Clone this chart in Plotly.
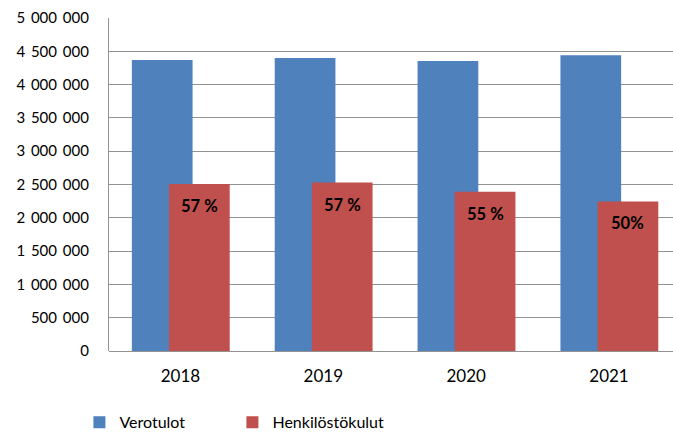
import plotly.graph_objects as go

years = ["2018", "2019", "2020", "2021"]
verotulot = [4370000, 4400000, 4355000, 4440000]
henkilostokulut = [2507000, 2530000, 2390000, 2246000]
pct_labels = ["57 %", "57 %", "55 %", "50%"]
ytick_vals = [0, 500000, 1000000, 1500000, 2000000, 2500000, 3000000, 3500000, 4000000, 4500000, 5000000]
ytick_text = ["0", "500 000", "1 000 000", "1 500 000", "2 000 000", "2 500 000",
              "3 000 000", "3 500 000", "4 000 000", "4 500 000", "5 000 000"]

BLUE = "#4F81BD"
RED = "#C0504D"
FONT = "Lato"
W = 0.425
OFF_BLUE = -0.34
OFF_RED = -0.08

xs = list(range(len(years)))
ytick_disp = [t.replace(" ", "\u00a0\u2009") for t in ytick_text]

fig = go.Figure()
fig.add_trace(go.Bar(x=xs, y=verotulot, name="Verotulot", marker_color=BLUE,
                     marker_line_width=0, width=W, offset=OFF_BLUE))
fig.add_trace(go.Bar(x=xs, y=henkilostokulut, name="Henkilöstökulut", marker_color=RED,
                     marker_line_width=0, width=W, offset=OFF_RED))

for i, (v, t) in enumerate(zip(henkilostokulut, pct_labels)):
    fig.add_annotation(x=i + OFF_RED + W / 2, y=v, text=t, showarrow=False,
                       yanchor="middle", yshift=-22,
                       font=dict(family=FONT, size=16.5, color="black", weight="bold"))

fig.update_layout(
    width=673, height=434,
    barmode="overlay",
    plot_bgcolor="white", paper_bgcolor="white",
    margin=dict(l=108.5, r=0, t=18, b=83.3, autoexpand=False),
    font=dict(family=FONT, color="black"),
    showlegend=True,
    legend=dict(orientation="h", xref="container", yref="container",
                x=0.118, y=0.027, xanchor="left", yanchor="middle",
                font=dict(family=FONT, size=16, color="black"),
                entrywidth=108, traceorder="normal"),
    xaxis=dict(range=[-0.5, 3.448], tickvals=xs, ticktext=years,
               showgrid=False, showline=False, zeroline=False,
               ticks="", ticklabelstandoff=13, automargin=False,
               tickfont=dict(family=FONT, size=17, color="black")),
    yaxis=dict(range=[0, 5000000], tickvals=ytick_vals, ticktext=ytick_disp,
               showgrid=True, gridcolor="#939393", gridwidth=1.3,
               showline=True, linecolor="#939393", linewidth=1.3,
               zeroline=True, zerolinecolor="#939393", zerolinewidth=1.3,
               ticks="", ticklabelstandoff=16, automargin=False,
               tickfont=dict(family=FONT, size=15, color="black")),
)

fig.write_html("out.html", config={"displayModeBar": False},
               post_script="document.body.style.margin='0';document.body.style.overflow='hidden';")
